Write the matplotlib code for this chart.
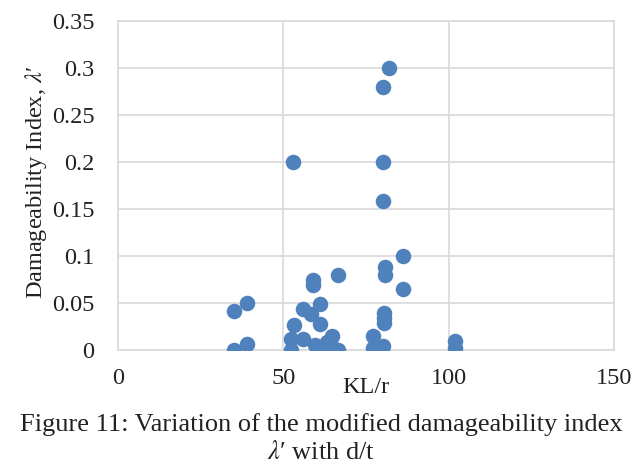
import matplotlib
matplotlib.use('Agg')
import matplotlib.pyplot as plt

plt.rcParams['font.family'] = ['Liberation Serif', 'DejaVu Serif']
plt.rcParams['mathtext.fontset'] = 'stix'

# KL/r and damageability index values
kl_r = [82, 80, 53, 80, 80,
        86.3, 80.8, 80.8, 86.3, 66.6, 59.1, 59.1,
        39, 35.1, 61.1, 56, 58.5, 61.1, 53.2,
        80.3, 80.3, 80.3, 77, 77, 80.2,
        102, 102, 39, 35.1,
        52.2, 52.2, 56, 59.6, 61.1, 64.6, 63.2, 66.6, 64.6]
lam = [0.30, 0.28, 0.20, 0.20, 0.158,
       0.10, 0.088, 0.080, 0.065, 0.080, 0.075, 0.069,
       0.050, 0.042, 0.049, 0.044, 0.038, 0.028, 0.027,
       0.039, 0.034, 0.029, 0.015, 0.002, 0.004,
       0.010, 0.002, 0.006, 0.0,
       0.012, 0.0, 0.012, 0.005, 0.0, 0.015, 0.009, 0.0, 0.003]

x_ticks = [0, 50, 100, 150]
y_ticks = [0, 0.05, 0.1, 0.15, 0.2, 0.25, 0.3, 0.35]
y_tick_labels = ['0', '0.05', '0.1', '0.15', '0.2', '0.25', '0.3', '0.35']

fig = plt.figure(figsize=(6.42, 4.68), dpi=100)
ax = fig.add_axes([0.1838, 0.2521, 0.7726, 0.703])

ax.scatter(kl_r, lam, s=125, color='#4F81BD', zorder=3, linewidths=0)

ax.set_xlim(0, 150)
ax.set_ylim(0, 0.35)
ax.set_xticks(x_ticks)
ax.set_yticks(y_ticks)
ax.set_yticklabels(y_tick_labels)
ax.grid(True, color='#D9D9D9', linewidth=1.2)
ax.set_axisbelow(True)
for sp in ax.spines.values():
    sp.set_color('#D9D9D9')
    sp.set_linewidth(1.2)
ax.tick_params(length=0, labelsize=17.5, colors='#222222')
ax.tick_params(axis='x', pad=13)
ax.tick_params(axis='y', pad=17)

ax.set_xlabel('KL/r', fontsize=17.5, labelpad=-9, color='#222222')
ax.set_ylabel('Damageability Index, $\\lambda$\u2032', fontsize=17.5, color='#222222')
ax.yaxis.set_label_coords(-0.14, 0.51)

fig.text(0.5, 0.092, 'Figure 11: Variation of the modified damageability index',
         ha='center', va='center', fontsize=19, color='#222222')
fig.text(0.5, 0.034, '$\\lambda$\u2032 with d/t', ha='center', va='center',
         fontsize=19, color='#222222')

fig.savefig('out.png', dpi=100)
